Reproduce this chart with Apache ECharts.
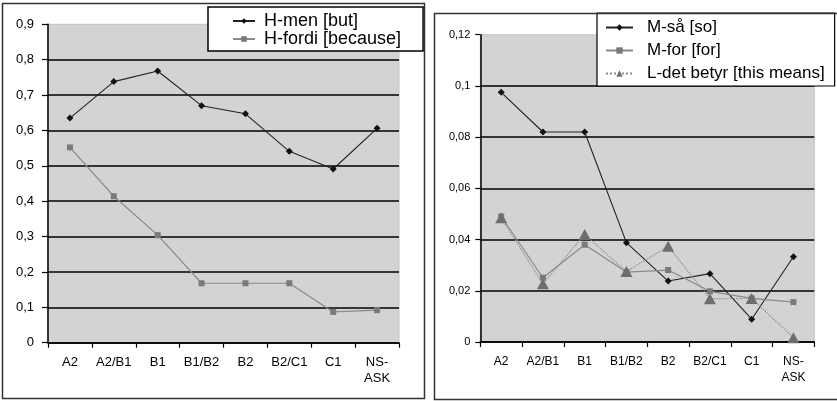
<!DOCTYPE html>
<html>
<head>
<meta charset="utf-8">
<script src="https://cdn.jsdelivr.net/npm/echarts@6/dist/echarts.min.js"></script>
<style>
html,body{margin:0;padding:0;background:#fff;}
#c{width:837px;height:401px;}
</style>
</head>
<body>
<div id="c"></div>
<script>
var categories = ['A2','A2/B1','B1','B1/B2','B2','B2/C1','C1','NS-\nASK'];
var leftTicks = ['0','0,1','0,2','0,3','0,4','0,5','0,6','0,7','0,8','0,9'];
var rightTicks = ['0','0,02','0,04','0,06','0,08','0,1','0,12'];
var hMen   = [0.635,0.738,0.768,0.670,0.647,0.541,0.491,0.606];
var hFordi = [0.552,0.414,0.304,0.168,0.168,0.168,0.087,0.092];
var mSaa   = [0.0975,0.082,0.082,0.0388,0.0238,0.0267,0.0089,0.0333];
var mFor   = [0.049,0.0251,0.038,0.0273,0.0281,0.0198,0.017,0.0156];
var lDet   = [0.0485,0.0227,0.042,0.0275,0.0374,0.0169,0.017,0.0017];

var FONT = '"Liberation Sans", Arial, sans-serif';
var chart = echarts.init(document.getElementById('c'), null, {renderer:'canvas'});

function xAxisCfg(gi, fs){
  return {
    type:'category', gridIndex:gi, data:categories, boundaryGap:true,
    axisLine:{show:true, lineStyle:{color:'#000', width:1.5}},
    axisTick:{show:true, alignWithLabel:false, length:5, lineStyle:{color:'#000', width:1.2}},
    axisLabel:{color:'#000', fontFamily:FONT, fontSize:fs, lineHeight:16, margin:12, interval:0},
    splitLine:{show:false}
  };
}
function yAxisCfg(gi, max, interval, ticks, fs, margin, tlen){
  return {
    type:'value', gridIndex:gi, min:0, max:max, interval:interval,
    axisLine:{show:true, lineStyle:{color:'#000', width:1.5}},
    axisTick:{show:true, length:tlen, lineStyle:{color:'#000', width:1.2}},
    axisLabel:{color:'#000', fontFamily:FONT, fontSize:fs, margin:margin,
      formatter:function(v){ var i = Math.round(v/interval); return ticks[i]; }},
    splitLine:{show:true, showMaxLine:false, lineStyle:{color:'#000', width:1.5}}
  };
}

var option = {
  animation:false,
  backgroundColor:'#fff',
  textStyle:{fontFamily:FONT},
  grid:[
    {left:48, top:24.3, width:351, height:318.4, show:true, backgroundColor:'#d3d3d3', borderColor:'#c4c4c4', borderWidth:1},
    {left:480.3, top:34.7, width:334, height:307.3, show:true, backgroundColor:'#d3d3d3', borderColor:'#c4c4c4', borderWidth:1}
  ],
  xAxis:[ xAxisCfg(0,13), xAxisCfg(1,12) ],
  yAxis:[
    yAxisCfg(0, 0.9, 0.1, leftTicks, 13, 14, 6),
    yAxisCfg(1, 0.12, 0.02, rightTicks, 11, 10, 5)
  ],
  legend:[
    {
      orient:'vertical', left:208, top:7, itemGap:0, itemWidth:22, itemHeight:7,
      padding:[5,22,3,24],
      backgroundColor:'#fff', borderColor:'#000', borderWidth:1.5,
      textStyle:{color:'#000', fontFamily:FONT, fontSize:18, lineHeight:15, padding:[0,0,0,4]},
      data:['H-men [but]','H-fordi [because]']
    },
    {
      orient:'vertical', left:597, top:13, itemGap:0, itemWidth:27, itemHeight:8,
      padding:[3,10,1,8],
      backgroundColor:'#fff', borderColor:'#000', borderWidth:1.2,
      textStyle:{color:'#000', fontFamily:FONT, fontSize:17, lineHeight:23, padding:[0,0,0,9]},
      data:['M-så [so]','M-for [for]','L-det betyr [this means]']
    }
  ],
  graphic:[
    {type:'rect', shape:{x:2.5, y:3.5, width:422, height:395}, style:{fill:'none', stroke:'#333', lineWidth:1.5}, z:100},
    {type:'rect', shape:{x:434.5, y:13.5, width:410, height:386}, style:{fill:'none', stroke:'#333', lineWidth:1.5}, z:100}
  ],
  series:[
    {name:'H-men [but]', type:'line', xAxisIndex:0, yAxisIndex:0, data:hMen,
      symbol:'diamond', symbolSize:7, itemStyle:{color:'#111'}, lineStyle:{color:'#222', width:1.1}},
    {name:'H-fordi [because]', type:'line', xAxisIndex:0, yAxisIndex:0, data:hFordi,
      symbol:'rect', symbolSize:6, itemStyle:{color:'#7a7a7a'}, lineStyle:{color:'#8a8a8a', width:1.2}},
    {name:'M-så [so]', type:'line', xAxisIndex:1, yAxisIndex:1, data:mSaa,
      symbol:'diamond', symbolSize:7, itemStyle:{color:'#111'}, lineStyle:{color:'#222', width:1.1}},
    {name:'M-for [for]', type:'line', xAxisIndex:1, yAxisIndex:1, data:mFor,
      symbol:'rect', symbolSize:6, itemStyle:{color:'#7a7a7a'}, lineStyle:{color:'#8a8a8a', width:1.2}},
    {name:'L-det betyr [this means]', type:'line', xAxisIndex:1, yAxisIndex:1, data:lDet,
      symbol:'triangle', symbolSize:[12,11], itemStyle:{color:'#6e6e6e'}, lineStyle:{color:'#8a8a8a', width:1.2, type:'dotted'}}
  ]
};
chart.setOption(option);
</script>
</body>
</html>
